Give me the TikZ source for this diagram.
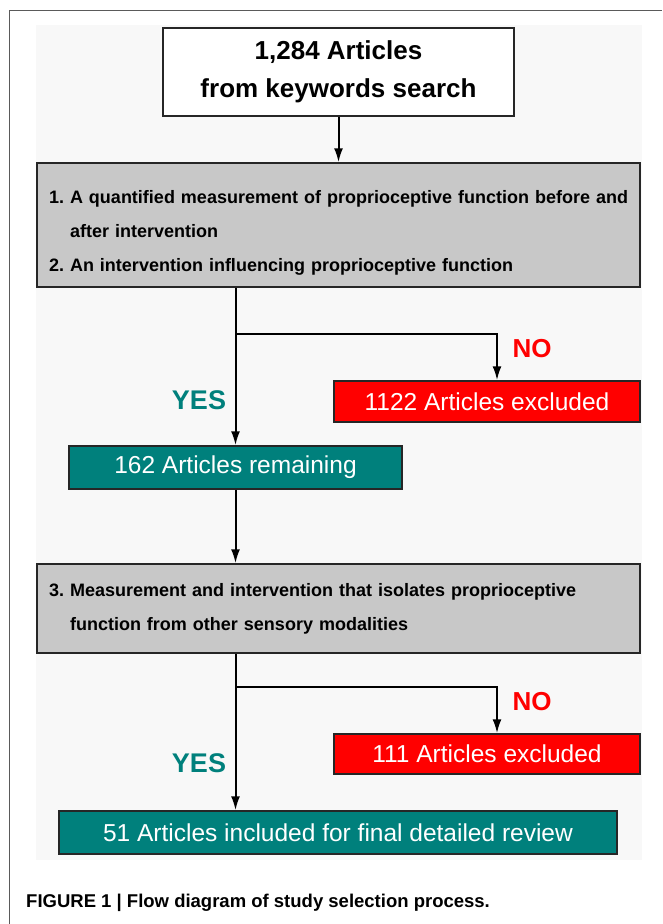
\documentclass[tikz,border=0pt]{standalone}
\usepackage{fontspec}
\setmainfont{Liberation Sans}
\usetikzlibrary{arrows.meta}
\definecolor{selTeal}{RGB}{0,128,124}
\definecolor{selRed}{RGB}{255,0,0}
\definecolor{selGray}{RGB}{200,200,200}
\definecolor{selPanel}{RGB}{248,248,248}
\definecolor{selFrame}{RGB}{90,90,90}
\begin{document}
\begin{tikzpicture}[x=1pt,y=-1pt]
            \tikzset{box/.style={draw=black!85, line width=1.5pt, minimum height=43pt, inner sep=0pt},
                     critbox/.style={box, fill=selGray, minimum width=603pt, text width=579pt, align=left, font=\fontsize{18}{34}\selectfont\bfseries},
                     keepbox/.style={box, fill=selTeal, text=white, font=\fontsize{24.5}{28}\selectfont},
                     dropbox/.style={box, fill=selRed, text=white, minimum width=306pt, minimum height=41pt, font=\fontsize{24.5}{28}\selectfont},
                     yeslbl/.style={text=selTeal, font=\fontsize{27}{30}\selectfont\bfseries},
                     nolbl/.style={text=selRed, font=\fontsize{26}{30}\selectfont\bfseries},
                     flow/.style={-{Latex[length=14pt,width=9pt]}, line width=2pt}}

            \useasboundingbox (0,0) rectangle (662,924);
            \fill[selPanel] (36,25) rectangle (642,860);
            \draw[selFrame, line width=1pt] (9,924) -- (9,10) -- (662,10);

            \node[box, fill=white, minimum width=351pt, minimum height=88pt, align=center, font=\fontsize{26}{38}\selectfont\bfseries] (search) at (338.5,72) {1,284 Articles\\from keywords search};

            \node[critbox, minimum height=124pt] (crit1) at (338.5,225) {\rule{0pt}{28pt}\mbox{1.\ A quantified measurement of proprioceptive function before and}\\\hphantom{1.\ }after intervention\\2.\ An intervention influencing proprioceptive function};

            \node[dropbox] (excl1) at (487,401.5) {1122 Articles excluded};
            \node[keepbox, minimum width=333pt] (remain) at (235.5,467.5) {162 Articles remaining};

            \node[critbox, minimum height=89pt] (crit2) at (338.5,608.5) {3.\ Measurement and intervention that isolates proprioceptive\\\hphantom{3.\ }function from other sensory modalities};

            \node[dropbox, minimum height=40pt] (excl2) at (487,754) {111 Articles excluded};
            \node[keepbox, minimum width=558pt] (final) at (338,832.5) {51 Articles included for final detailed review};

            \node[yeslbl] (yes1) at (199,400) {YES};
            \node[nolbl] (no1) at (532,349) {NO};
            \node[yeslbl] (yes2) at (199,763) {YES};
            \node[nolbl] (no2) at (532,702) {NO};

            \node[anchor=west, inner sep=0pt, font=\fontsize{18.5}{22}\selectfont\bfseries] (caption) at (26,903) {FIGURE 1 | Flow diagram of study selection process.};

            \coordinate (split1) at (235.5,334);
            \coordinate (split2) at (235.5,687);

            \draw[flow] (search) -- (crit1);
            \draw[flow] (crit1.south -| remain.north) -- (remain.north);
            \draw[flow] (split1) -| ([xshift=10pt]excl1.north);
            \draw[flow] (remain) -- (crit2.north -| remain.north);
            \draw[flow] (crit2.south -| remain.north) -- (final.north -| remain.north);
            \draw[flow] (split2) -| ([xshift=10pt]excl2.north);
        \end{tikzpicture}
\end{document}
